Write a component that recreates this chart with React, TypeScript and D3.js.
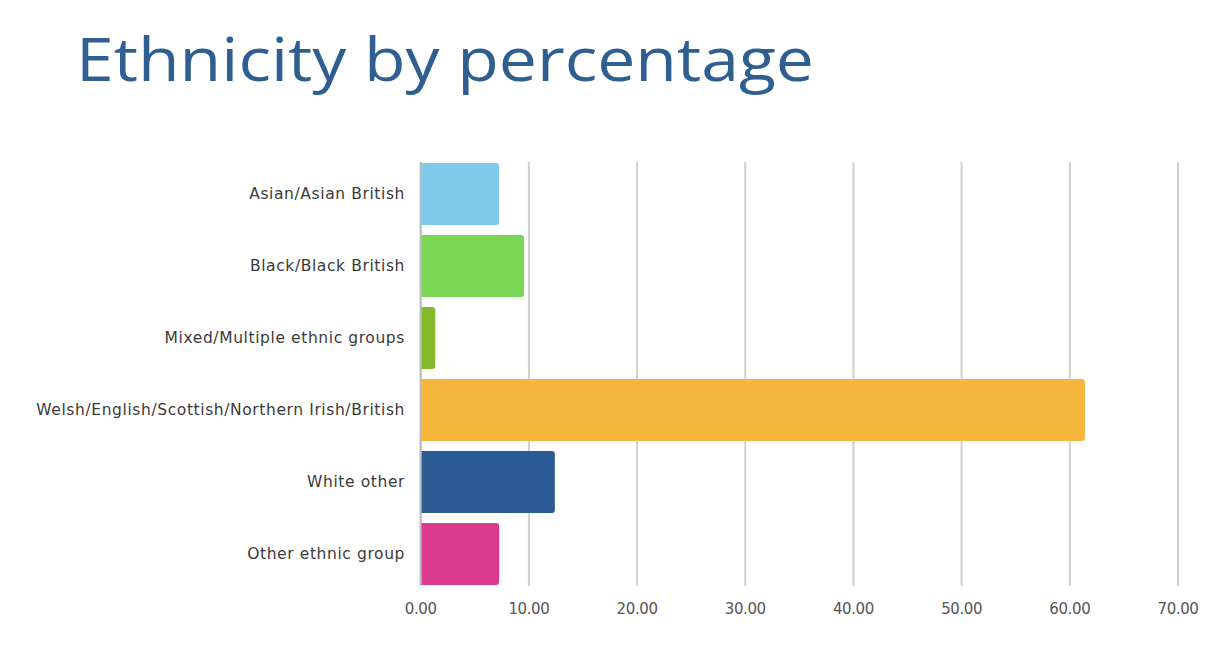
import React from "react";
import * as d3 from "d3";

const categories = [
  "Asian/Asian British",
  "Black/Black British",
  "Mixed/Multiple ethnic groups",
  "Welsh/English/Scottish/Northern Irish/British",
  "White other",
  "Other ethnic group",
];
const values = [7.25, 9.55, 1.35, 61.4, 12.4, 7.25];
const colors = ["#7dcaea", "#7cd656", "#86b82c", "#f6b63d", "#2b5b94", "#dc3a8f"];
const ticks = [0, 10, 20, 30, 40, 50, 60, 70];

export default function App() {
  const W = 1213, H = 657;
  const x = d3.scaleLinear().domain([0, 70]).range([420.7, 1178]);
  const y = d3.scaleBand().domain(categories).range([158, 590]).paddingInner(0.14).paddingOuter(0.07);
  const fmt = d3.format(".2f");
  return (
    <svg width={W} height={H} style={{ position: "absolute", left: 0, top: 0, background: "#fff" }}>
      <text x={76} y={81} fontFamily="'Open Sans', sans-serif" fontSize={60} fill="#2f5f91" textLength={738} lengthAdjust="spacingAndGlyphs">Ethnicity by percentage</text>
      {ticks.map((t) => (
        <g key={t}>
          <line x1={x(t)} x2={x(t)} y1={162} y2={586} stroke="#cfcfcf" strokeWidth={2} />
          <text x={x(t)} y={614} textAnchor="middle" fontFamily="'DejaVu Sans', sans-serif" fontSize={15} fill="#555" letterSpacing={-0.4}>{fmt(t)}</text>
        </g>
      ))}
      {categories.map((c, i) => {
        const x0 = x(0), x1 = x(values[i]);
        const y0 = y(c)!, h = y.bandwidth();
        const r = 3;
        const path = `M${x0},${y0}H${x1 - r}Q${x1},${y0} ${x1},${y0 + r}V${y0 + h - r}Q${x1},${y0 + h} ${x1 - r},${y0 + h}H${x0}Z`;
        return (
          <g key={c}>
            <path d={path} fill={colors[i]} />
            <text x={405} y={y0 + h / 2} dy="0.35em" textAnchor="end" fontFamily="'DejaVu Sans', sans-serif" fontSize={15.5} fill="#3a3a3a" letterSpacing={0.6}>{c}</text>
          </g>
        );
      })}
      <line x1={x(0)} x2={x(0)} y1={162} y2={586} stroke="#bdbdbd" strokeWidth={2} />
    </svg>
  );
}
